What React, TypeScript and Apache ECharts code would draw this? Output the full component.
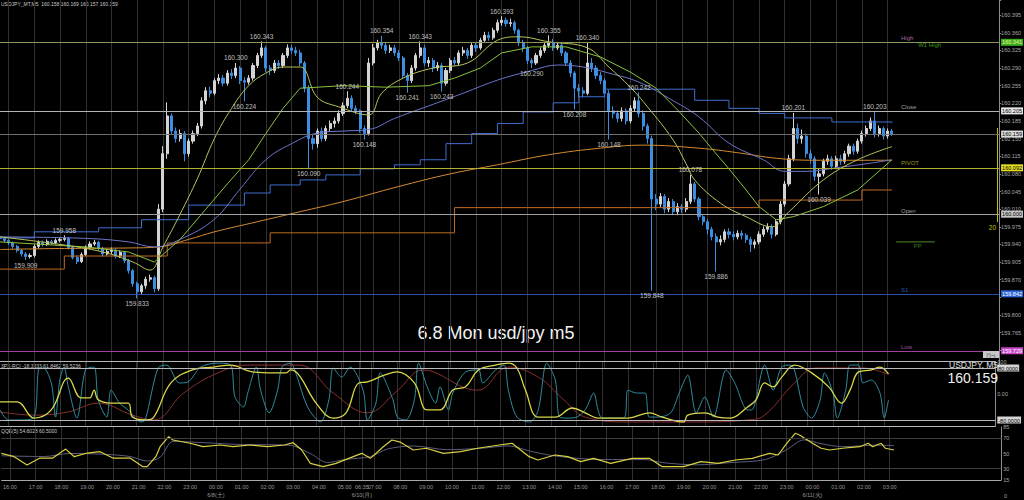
import React, { useEffect, useRef } from 'react';
import * as echarts from 'echarts';

const FONT = '"Liberation Sans", Arial, sans-serif';

// ---------- time axis ----------
const sessionStarts = ['15:40', '06:30'];
const sessionSlots = [84, 150];
const lastBarIndex = 208;
const labelOverrides: Record<number, string> = { 84: '06:35' };
const dateLabels: Record<number, string> = { 50: '6/8(土)', 84: '6/10(月)', 189: '6/11(火)' };

// ---------- price bars (10-min), rows = [close, high, low] ----------
const firstOpen = 159.955;
const fridayBars = [
  [159.952, 159.957, 159.946], [159.948, 159.955, 159.944], [159.943, 159.951, 159.939], [159.936, 159.946, 159.931],
  [159.928, 159.939, 159.924], [159.921, 159.931, 159.916], [159.916, 159.925, 159.909], [159.918, 159.922, 159.912],
  [159.936, 159.940, 159.914], [159.944, 159.948, 159.932], [159.940, 159.948, 159.936], [159.946, 159.950, 159.937],
  [159.943, 159.949, 159.939], [159.948, 159.952, 159.940], [159.950, 159.954, 159.944], [159.952, 159.958, 159.946],
  [159.934, 159.955, 159.930], [159.914, 159.937, 159.910], [159.906, 159.918, 159.901], [159.920, 159.924, 159.903],
  [159.934, 159.938, 159.917], [159.941, 159.946, 159.930], [159.944, 159.949, 159.937], [159.932, 159.947, 159.928],
  [159.921, 159.935, 159.916], [159.926, 159.931, 159.918], [159.929, 159.934, 159.921], [159.917, 159.932, 159.912],
  [159.924, 159.928, 159.913], [159.908, 159.927, 159.903], [159.888, 159.911, 159.882], [159.862, 159.891, 159.856],
  [159.846, 159.866, 159.833], [159.858, 159.862, 159.840], [159.871, 159.876, 159.852], [159.874, 159.880, 159.866],
  [159.852, 159.878, 159.845], [160.010, 160.020, 159.848], [160.120, 160.135, 160.004], [160.195, 160.222, 160.110],
  [160.165, 160.200, 160.158], [160.150, 160.172, 160.142], [160.160, 160.168, 160.144], [160.120, 160.165, 160.105],
  [160.145, 160.150, 160.114], [160.160, 160.166, 160.140], [160.175, 160.181, 160.155], [160.225, 160.232, 160.170],
  [160.245, 160.252, 160.218], [160.240, 160.253, 160.232], [160.265, 160.270, 160.236], [160.270, 160.278, 160.258],
  [160.260, 160.276, 160.254], [160.280, 160.286, 160.255], [160.275, 160.288, 160.268], [160.290, 160.300, 160.270],
  [160.265, 160.294, 160.258], [160.262, 160.272, 160.224], [160.270, 160.276, 160.257], [160.295, 160.300, 160.265],
  [160.315, 160.320, 160.290], [160.330, 160.343, 160.310], [160.290, 160.334, 160.282], [160.285, 160.296, 160.276],
  [160.300, 160.306, 160.280], [160.295, 160.306, 160.288], [160.315, 160.320, 160.290], [160.330, 160.337, 160.310],
  [160.325, 160.336, 160.318], [160.320, 160.332, 160.314], [160.300, 160.326, 160.294], [160.250, 160.304, 160.242],
  [160.150, 160.256, 160.090], [160.140, 160.158, 160.128], [160.165, 160.170, 160.132], [160.150, 160.172, 160.144],
  [160.170, 160.176, 160.145], [160.180, 160.186, 160.164], [160.185, 160.192, 160.172], [160.200, 160.206, 160.180],
  [160.215, 160.222, 160.195], [160.230, 160.244, 160.210], [160.210, 160.236, 160.204], [160.205, 160.216, 160.198],
];
const mondayBars = [
  [160.170, 160.208, 160.162], [160.160, 160.176, 160.148], [160.300, 160.310, 160.156], [160.330, 160.338, 160.295],
  [160.340, 160.346, 160.325], [160.335, 160.354, 160.328], [160.325, 160.340, 160.318], [160.330, 160.336, 160.320],
  [160.320, 160.336, 160.314], [160.310, 160.326, 160.304], [160.275, 160.314, 160.268], [160.265, 160.280, 160.241],
  [160.290, 160.296, 160.260], [160.315, 160.320, 160.285], [160.330, 160.343, 160.310], [160.300, 160.336, 160.294],
  [160.305, 160.312, 160.292], [160.290, 160.310, 160.282], [160.295, 160.302, 160.284], [160.260, 160.300, 160.243],
  [160.285, 160.290, 160.255], [160.305, 160.310, 160.280], [160.300, 160.312, 160.294], [160.320, 160.325, 160.296],
  [160.325, 160.332, 160.314], [160.315, 160.330, 160.308], [160.335, 160.340, 160.310], [160.330, 160.342, 160.322],
  [160.345, 160.350, 160.326], [160.355, 160.362, 160.340], [160.350, 160.362, 160.344], [160.365, 160.370, 160.346],
  [160.380, 160.386, 160.360], [160.385, 160.393, 160.374], [160.378, 160.390, 160.372], [160.380, 160.388, 160.372],
  [160.365, 160.384, 160.358], [160.340, 160.368, 160.334], [160.330, 160.346, 160.322], [160.305, 160.334, 160.298],
  [160.300, 160.310, 160.290], [160.315, 160.320, 160.296], [160.325, 160.331, 160.310], [160.335, 160.340, 160.320],
  [160.340, 160.355, 160.330], [160.330, 160.348, 160.324], [160.335, 160.342, 160.326], [160.320, 160.340, 160.314],
  [160.300, 160.324, 160.294], [160.280, 160.306, 160.272], [160.250, 160.284, 160.208], [160.245, 160.258, 160.232],
  [160.240, 160.252, 160.232], [160.300, 160.340, 160.236], [160.290, 160.310, 160.282], [160.275, 160.296, 160.268],
  [160.265, 160.282, 160.258], [160.240, 160.270, 160.232], [160.205, 160.246, 160.148], [160.200, 160.214, 160.190],
  [160.190, 160.206, 160.182], [160.205, 160.212, 160.184], [160.185, 160.210, 160.178], [160.210, 160.216, 160.180],
  [160.225, 160.232, 160.204], [160.200, 160.242, 160.192], [160.175, 160.206, 160.166], [160.150, 160.180, 160.140],
  [160.030, 160.156, 159.848], [160.020, 160.040, 160.008], [160.035, 160.042, 160.014], [160.010, 160.040, 160.002],
  [160.025, 160.032, 160.004], [160.005, 160.030, 159.998], [160.015, 160.022, 159.998], [160.010, 160.020, 160.002],
  [160.025, 160.032, 160.004], [160.060, 160.078, 160.020], [160.030, 160.064, 160.024], [159.995, 160.034, 159.988],
  [159.985, 160.000, 159.978], [159.970, 159.990, 159.960], [159.955, 159.975, 159.948], [159.945, 159.962, 159.886],
  [159.950, 159.958, 159.938], [159.965, 159.970, 159.944], [159.960, 159.972, 159.952], [159.955, 159.966, 159.948],
  [159.962, 159.968, 159.950], [159.958, 159.968, 159.950], [159.950, 159.962, 159.943], [159.940, 159.955, 159.925],
  [159.945, 159.950, 159.932], [159.960, 159.966, 159.940], [159.970, 159.976, 159.955], [159.975, 159.982, 159.964],
  [159.960, 159.980, 159.952], [159.985, 159.990, 159.956], [160.020, 160.026, 159.980], [160.060, 160.066, 160.015],
  [160.110, 160.118, 160.055], [160.170, 160.201, 160.105], [160.150, 160.180, 160.140], [160.155, 160.168, 160.140],
  [160.120, 160.160, 160.112], [160.110, 160.128, 160.100], [160.075, 160.115, 160.066], [160.080, 160.090, 160.039],
  [160.105, 160.110, 160.075], [160.110, 160.118, 160.098], [160.095, 160.115, 160.088], [160.110, 160.116, 160.090],
  [160.105, 160.118, 160.098], [160.120, 160.126, 160.100], [160.135, 160.140, 160.114], [160.125, 160.140, 160.118],
  [160.145, 160.150, 160.120], [160.160, 160.166, 160.140], [160.170, 160.176, 160.154], [160.185, 160.192, 160.165],
  [160.160, 160.203, 160.152], [160.170, 160.176, 160.154], [160.155, 160.174, 160.148], [160.165, 160.170, 160.150],
  [160.159, 160.169, 160.155],
];

// ---------- zigzag swing labels ----------
const zigzagIndex = [6, 15, 32, 55, 57, 61, 72, 81, 85, 89, 95, 98, 103, 117, 124, 128, 134, 137, 142, 149, 152, 161, 167, 185, 191, 204];
const zigzagPrice = [159.909, 159.958, 159.833, 160.300, 160.224, 160.343, 160.090, 160.244, 160.148, 160.354, 160.241, 160.343, 160.243,
  160.393, 160.290, 160.355, 160.208, 160.340, 160.148, 160.242, 159.848, 160.078, 159.886, 160.201, 160.039, 160.203];
const zigzagSide = ['L', 'H', 'L', 'H', 'L', 'H', 'L', 'H', 'L', 'H', 'L', 'H', 'L', 'H', 'L', 'H', 'L', 'H', 'L', 'H', 'L', 'H', 'L', 'H', 'L', 'H'];

// ---------- moving averages [barIndex, price] ----------
const maFast = [[0, 159.955], [14, 159.940], [24, 159.925], [31, 159.905], [35, 159.889], [38, 159.935], [42, 160.000], [46, 160.070],
  [50, 160.150], [54, 160.210], [58, 160.255], [62, 160.280], [66, 160.292], [70, 160.292], [74, 160.232], [79, 160.213], [86, 160.197],
  [89, 160.240], [94, 160.270], [101, 160.290], [109, 160.300], [116, 160.345], [121, 160.352], [128, 160.342], [137, 160.330],
  [142, 160.292], [147, 160.252], [151, 160.213], [157, 160.147], [160, 160.100], [162, 160.068], [168, 160.022], [174, 159.995],
  [180, 159.975], [184, 160.005], [192, 160.068], [200, 160.108], [208, 160.134]];
const maGreen = [[0, 159.945], [20, 159.935], [30, 159.925], [36, 159.905], [42, 159.950], [48, 160.010], [53, 160.060], [58, 160.108],
  [62, 160.160], [66, 160.210], [70, 160.250], [80, 160.255], [90, 160.252], [100, 160.255], [106, 160.270], [112, 160.290],
  [117, 160.320], [124, 160.332], [132, 160.332], [140, 160.312], [147, 160.282], [153, 160.250], [158, 160.207], [163, 160.161],
  [166, 160.130], [170, 160.090], [174, 160.048], [177, 160.015], [181, 159.989], [185, 159.995], [192, 160.015], [200, 160.048],
  [208, 160.108]];
const maSlate = [[0, 159.955], [20, 159.952], [30, 159.945], [36, 159.935], [42, 159.950], [50, 159.990], [56, 160.050], [62, 160.108],
  [68, 160.140], [74, 160.161], [80, 160.165], [86, 160.168], [92, 160.190], [100, 160.215], [108, 160.240], [116, 160.266],
  [124, 160.285], [130, 160.296], [136, 160.292], [142, 160.280], [149, 160.262], [156, 160.230], [163, 160.193], [170, 160.141],
  [178, 160.108], [183, 160.085], [188, 160.085], [195, 160.092], [202, 160.100], [208, 160.108]];
const maStepBlue = [[0, 159.953], [8, 159.965], [23, 159.973], [33, 159.989], [44, 160.018], [57, 160.042], [63, 160.058], [70, 160.068],
  [76, 160.078], [84, 160.090], [92, 160.098], [98, 160.108], [104, 160.140], [110, 160.160], [116, 160.180], [122, 160.203],
  [129, 160.221], [135, 160.233], [141, 160.248], [162, 160.226], [170, 160.210], [177, 160.200], [183, 160.191], [194, 160.183],
  [208, 160.181]];
const maOrange = [[0, 159.930], [15, 159.932], [30, 159.933], [37, 159.935], [44, 159.950], [50, 159.965], [60, 159.985], [70, 160.005],
  [80, 160.025], [93, 160.055], [105, 160.080], [116, 160.098], [128, 160.118], [140, 160.131], [150, 160.137], [163, 160.131],
  [172, 160.122], [181, 160.111], [190, 160.107], [208, 160.107]];
const maStepOrange = [[0, 159.891], [15, 159.917], [39, 159.943], [63, 159.963], [106, 160.013], [177, 160.028], [201, 160.048], [208, 160.048]];

// ---------- levels ----------
const levelValues = [160.341, 160.205, 160.159, 160.092, 160.0, 159.842, 159.729];
const ppLevel = 159.945;
const ppSpan = [209, 218];
const levelNames = ['High', 'W1 High', 'Close', 'PIVOT', 'Open', 'PP', 'S1', 'Low'];
const levelNameValues = [160.341, 160.341, 160.205, 160.092, 160.0, 159.945, 159.842, 159.729];

// ---------- RCI sub-window ----------
const rciShort = [[0, -49], [2, -80], [5, -80], [8, -71], [9, 74], [10, 83], [12, 34], [13, -71], [14, 43], [15, 83], [16, 22], [18, -74],
  [20, 74], [22, 83], [23, -18], [25, -71], [26, 12], [28, -28], [30, -49], [33, -86], [34, -80], [37, 80], [39, 89], [42, 34], [44, 37],
  [47, 83], [51, 95], [54, 89], [55, -9], [57, -40], [58, 3], [60, 83], [61, 12], [63, -58], [65, 12], [66, 83], [68, 95], [69, 74],
  [72, -40], [75, -86], [77, -18], [78, 80], [80, 52], [82, 83], [85, 12], [86, -80], [88, -28], [89, 65], [92, -18], [93, -71],
  [95, -80], [97, -18], [98, 95], [100, 22], [102, -28], [103, 22], [105, -49], [106, 3], [109, 68], [112, 74], [113, 34], [116, 74],
  [118, 89], [119, 12], [121, -71], [124, -86], [126, -49], [128, 95], [130, 43], [131, -71], [133, -74], [135, -71], [137, -49],
  [139, 3], [140, -49], [141, -74], [146, -74], [147, 12], [149, 3], [151, 3], [152, -71], [154, -71], [157, -58], [159, 3], [161, 58],
  [163, -58], [165, -9], [167, -71], [170, 74], [172, 34], [175, -49], [176, -49], [179, 89], [181, 12], [183, 83], [185, 89], [186, 74],
  [188, -40], [190, -74], [192, -18], [193, 65], [195, 3], [196, -74], [198, 12], [199, 89], [201, 89], [202, 34], [204, 43], [206, 3],
  [207, -74], [208, -18]];
const rciMid = [[0, -24], [4, -24], [8, -74], [12, -49], [16, 49], [19, -12], [21, -12], [22, 12], [23, -18], [26, -28], [30, -28], [31, -71],
  [34, -80], [36, -71], [40, 34], [45, 74], [50, 83], [54, 89], [59, 68], [64, 65], [67, 65], [68, 74], [70, 58], [74, -28], [78, -74],
  [81, -58], [84, 34], [86, 37], [90, 58], [93, 68], [97, 34], [100, -49], [103, -49], [106, 12], [109, 22], [112, 74], [116, 89],
  [119, 95], [121, 80], [123, 12], [126, -71], [130, -71], [134, -43], [137, -58], [140, -74], [147, -74], [152, -58], [155, -71],
  [160, -86], [161, -65], [165, -58], [168, -71], [171, -74], [175, -40], [177, -18], [179, 34], [181, 22], [183, 52], [186, 89],
  [190, 65], [194, 22], [197, -28], [199, 12], [201, 68], [204, 74], [206, 83], [208, 62]];
const rciLong = [[0, -55], [8, -65], [16, -55], [23, -28], [31, -65], [36, -80], [43, 3], [51, 65], [58, 89], [70, 89], [78, 3], [86, -58],
  [93, 10], [99, 74], [109, 18], [112, 12], [119, 83], [126, 52], [132, -18], [137, -71], [147, -86], [163, -86], [175, -80], [179, -65],
  [186, 34], [191, 80], [202, 80], [208, 60]];
const rciBands = [100, 80, -80, -100];

// ---------- QQE sub-window ----------
const qqeMain = [[0, 50.2], [3, 45.8], [6, 34.8], [9, 44], [12, 44], [15, 55.8], [17, 45.8], [20, 50.6], [23, 52.4], [26, 44], [30, 44],
  [33, 32.6], [34, 32.6], [36, 45.8], [37, 59], [39, 72.2], [40, 67.8], [44, 63.5], [47, 59], [51, 61.2], [54, 59], [58, 61.2], [62, 59],
  [66, 61.2], [68, 64.3], [70, 54.6], [72, 37], [75, 32.6], [78, 37], [82, 45.8], [84, 50.2], [86, 43.6], [89, 59], [91, 67.8], [93, 65],
  [96, 54.6], [99, 56.9], [103, 50.2], [107, 52.4], [111, 56.9], [116, 61.2], [119, 63.5], [123, 45.8], [125, 41.4], [129, 48],
  [132, 45.8], [135, 39.2], [138, 43.6], [142, 37], [147, 43.6], [151, 43.6], [154, 32.6], [159, 32.6], [163, 39.2], [167, 37],
  [171, 41.4], [175, 43.6], [179, 50.2], [181, 48], [183, 63.5], [185, 76.7], [186, 74.4], [189, 63.5], [191, 56.9], [193, 54.6],
  [196, 56.9], [200, 59], [202, 63.5], [203, 59], [205, 63.5], [206, 56.9], [208, 54.6]];
const qqeSignal = [[0, 47], [10, 46], [16, 50], [24, 49], [30, 46], [34, 40], [37, 45], [40, 66], [45, 65], [55, 62], [67, 61], [72, 50],
  [76, 38], [80, 42], [86, 46], [90, 56], [96, 60], [104, 55], [112, 57], [118, 60], [124, 52], [130, 46], [140, 42], [150, 42],
  [154, 38], [162, 35], [170, 38], [178, 42], [183, 55], [187, 68], [191, 63], [196, 59], [204, 61], [208, 60.5]];
const qqeLevels = [70, 30, 15];
const qqeTickLabels = [15, 30, 50, 70, 85];

// ---------- text ----------
const headerText = 'USDJPY_MT,M5  160.158 160.169 160.157 160.159';
const rciHeader = '3PX-RCI -18.3333 61.8462 59.5236';
const qqeHeader = 'QQE(5) 54.6028 60.5000';
const titleText = '6.8 Mon usd/jpy m5';
const symbolText = 'USDJPY, M5';
const lastPriceText = '160.159';

// ---------- styling ----------
const UP = '#d4d4d4';
const DOWN = '#3d8de0';
const levelLineColors = ['#8e955a', '#b4b4b4', '#6e6e6e', '#b2b030', '#a0a0a0', '#2d4fb0', '#a040a0'];
const levelBoxColors = ['#3cb01c', '#e6e6e6', '#dcdcdc', '#e6de22', '#c6c6c6', '#2a66d8', '#c848c8'];
const levelBoxText = ['#e8f8a0', '#000', '#000', '#000', '#000', '#fff', '#fff'];
const levelNameColors = ['#d884d0', '#48c018', '#c8c8c8', '#c8c020', '#c8c8c8', '#48a018', '#3a70e0', '#c070c0'];
const levelNameSlot = [210, 214, 210, 210, 210, 213, 210, 210];
const levelNameDy = [-4, 3, -4, -5, -3, 4, -4, -4];

const pad = (n: number) => (n < 10 ? '0' : '') + n;
const categories: string[] = [];
sessionStarts.forEach((s, k) => {
  const [h, m] = s.split(':').map(Number);
  for (let i = 0; i < sessionSlots[k]; i++) {
    const t = (h * 60 + m + i * 10) % 1440;
    categories.push(pad(Math.floor(t / 60)) + ':' + pad(t % 60));
  }
});
const isGridIndex = (i: number) =>
  i <= lastBarIndex && (categories[i].endsWith(':00') || labelOverrides[i] !== undefined);

export default function App() {
  const ref = useRef<HTMLDivElement>(null);
  useEffect(() => {
    if (!ref.current) return;
    const chart = echarts.init(ref.current, undefined, { renderer: 'svg' });
    const bars = fridayBars.concat(mondayBars);
    const candleData = bars.map((b, i) => [i === 0 ? firstOpen : bars[i - 1][0], b[0], b[2], b[1]]);
    const zigzagData = zigzagIndex.map((x, k) => ({
      value: [x, zigzagPrice[k]],
      label: { position: zigzagSide[k] === 'H' ? 'top' : 'bottom', distance: 1 },
    }));
    const levelNameData = levelNames.map((n, k) => ({
      value: [levelNameSlot[k], levelNameValues[k]],
      label: { formatter: n, color: levelNameColors[k], offset: [0, levelNameDy[k]] },
    }));
    const gridLeft = -0.6;
    const gridRight = 22.7;
    const xAxisBase = (k: number) => ({
      type: 'category',
      gridIndex: k,
      data: categories,
      boundaryGap: false,
      axisLine: { show: false },
      axisTick: { show: false },
      axisLabel:
        k === 2
          ? {
              show: true,
              interval: (i: number) => isGridIndex(i),
              formatter: (v: string, i: number) => {
                const t = labelOverrides[i] ?? v;
                return dateLabels[i] ? t + '\n{d|' + dateLabels[i] + '}' : t;
              },
              fontSize: 5.5,
              color: '#9a9a9a',
              fontFamily: FONT,
              margin: 4,
              rich: { d: { fontSize: 5.5, color: '#9a9a9a', fontFamily: FONT, padding: [2, 0, 0, 0] } },
            }
          : { show: false },
      splitLine: { show: true, interval: (i: number) => isGridIndex(i), lineStyle: { color: '#303030', width: 1 } },
    });
    const axisLabelBase = { fontSize: 5.5, color: '#a8a8a8', fontFamily: FONT, margin: 2 };
    const line = (data: number[][], color: string, xi: number, extra: any = {}) => ({
      type: 'line',
      xAxisIndex: xi,
      yAxisIndex: xi,
      data,
      symbol: 'none',
      silent: true,
      lineStyle: { color, width: 1 },
      z: 3,
      ...extra,
    });
    const option: any = {
      animation: false,
      backgroundColor: '#000',
      grid: [
        { left: gridLeft, right: gridRight, top: 0, height: 367.9 },
        { left: gridLeft, right: gridRight, top: 361.5, height: 65 },
        { left: gridLeft, right: gridRight, top: 427, height: 53 },
      ],
      xAxis: [xAxisBase(0), xAxisBase(1), xAxisBase(2)],
      yAxis: [
        {
          type: 'value',
          gridIndex: 0,
          position: 'right',
          min: 159.695,
          max: 160.425,
          interval: 0.035,
          axisLine: { show: true, lineStyle: { color: '#8c8c8c' } },
          axisTick: { show: true, length: 2, lineStyle: { color: '#8c8c8c' } },
          splitLine: { show: false },
          axisLabel: {
            ...axisLabelBase,
            formatter: (v: number) => {
              if (v < 159.74 || v > 160.41) return '';
              if (levelValues.some((l) => Math.abs(l - v) < 0.008)) return '';
              return v.toFixed(3);
            },
          },
        },
        {
          type: 'value',
          gridIndex: 1,
          position: 'right',
          min: -100,
          max: 100,
          interval: 20,
          axisLine: { show: true, lineStyle: { color: '#8c8c8c' } },
          axisTick: { show: false },
          splitLine: { show: false },
          axisLabel: {
            ...axisLabelBase,
            formatter: (v: number) => {
              if (Math.round(v) === 100) return '100';
              if (Math.round(v) === 80) return '{b|80.0000}';
              if (Math.round(v) === -80) return '{b|-80.0000}';
              if (Math.round(v) === 0) return '0.00';
              return '';
            },
            rich: { b: { backgroundColor: '#d4d4d4', color: '#000', fontSize: 5.5, fontFamily: FONT, padding: [1, 1, 0, 1] } },
          },
        },
        {
          type: 'value',
          gridIndex: 2,
          position: 'right',
          min: 15,
          max: 85,
          interval: 5,
          axisLine: { show: true, lineStyle: { color: '#8c8c8c' } },
          axisTick: { show: false },
          splitLine: { show: false },
          axisLabel: {
            ...axisLabelBase,
            formatter: (v: number) => (qqeTickLabels.includes(Math.round(v)) ? String(Math.round(v)) : ''),
          },
        },
      ],
      series: [
        {
          type: 'candlestick',
          xAxisIndex: 0,
          yAxisIndex: 0,
          data: candleData,
          barWidth: 2.6,
          silent: true,
          z: 2,
          itemStyle: { color: UP, color0: DOWN, borderColor: UP, borderColor0: DOWN, borderWidth: 1 },
          markLine: {
            silent: true,
            symbol: ['none', 'none'],
            precision: 3,
            animation: false,
            label: {
              show: true,
              position: 'end',
              distance: 2,
              fontSize: 5.5,
              fontFamily: FONT,
              padding: [1, 1, 0, 1],
              formatter: (p: any) => Number(p.value).toFixed(3),
            },
            data: levelValues.map((v, k) => ({
              yAxis: v,
              lineStyle: { color: levelLineColors[k], width: 1, type: 'solid' },
              label: { backgroundColor: levelBoxColors[k], color: levelBoxText[k] },
            })),
          },
        },
        line(maStepOrange, '#c06a22', 0, { step: 'end' }),
        line(maOrange, '#d48c30', 0, { smooth: 0.4 }),
        line(maStepBlue, '#3f6ed0', 0, { step: 'end' }),
        line(maSlate, '#6b76cc', 0, { smooth: 0.4 }),
        line(maGreen, '#8cc23c', 0, {}),
        line(maFast, '#b8c458', 0, { smooth: 0.4 }),
        line([[ppSpan[0], ppLevel], [ppSpan[1], ppLevel]], '#4e8a26', 0, {}),
        {
          type: 'scatter',
          xAxisIndex: 0,
          yAxisIndex: 0,
          data: zigzagData,
          symbolSize: 1,
          silent: true,
          itemStyle: { color: 'rgba(0,0,0,0)' },
          z: 6,
          label: {
            show: true,
            color: '#ececec',
            fontSize: 6.5,
            fontFamily: FONT,
            formatter: (p: any) => Number(p.value[1]).toFixed(3),
          },
        },
        {
          type: 'scatter',
          xAxisIndex: 0,
          yAxisIndex: 0,
          data: levelNameData,
          symbolSize: 1,
          silent: true,
          itemStyle: { color: 'rgba(0,0,0,0)' },
          z: 6,
          label: { show: true, position: 'right', distance: 0, fontSize: 6, fontFamily: FONT },
        },
        line(rciLong, '#8a2f2f', 1, { smooth: 0.4 }),
        line(rciShort, '#2e8e9e', 1, { smooth: 0.3 }),
        line(rciMid, '#d8d848', 1, {
          smooth: 0.4,
          lineStyle: { color: '#d8d848', width: 1.3 },
          markLine: {
            silent: true,
            symbol: ['none', 'none'],
            label: { show: false },
            lineStyle: { color: '#b8b8b8', width: 1, type: 'solid' },
            data: rciBands.map((v) => ({ yAxis: v })),
          },
        }),
        line(qqeSignal, '#5e5e7c', 2, { smooth: 0.3 }),
        line(qqeMain, '#d8d040', 2, {
          lineStyle: { color: '#d8d040', width: 1.2 },
          markLine: {
            silent: true,
            symbol: ['none', 'none'],
            label: { show: false },
            data: qqeLevels.map((v) => ({
              yAxis: v,
              lineStyle: { color: v === 15 ? '#a8a8a8' : '#3e3e3e', width: 1, type: 'solid' },
            })),
          },
        }),
      ],
      graphic: [
        { type: 'text', left: 1, top: 1, silent: true, style: { text: headerText, fill: '#c8c8c8', fontSize: 5, fontFamily: FONT } },
        { type: 'text', left: 1, top: 363, silent: true, style: { text: rciHeader, fill: '#c8c8c8', fontSize: 5, fontFamily: FONT } },
        { type: 'text', left: 1, top: 428, silent: true, style: { text: qqeHeader, fill: '#c8c8c8', fontSize: 5, fontFamily: FONT } },
        {
          type: 'text', x: 496, y: 333, silent: true,
          style: { text: titleText, fill: '#f2f2f2', fontSize: 18, fontFamily: FONT, align: 'center', verticalAlign: 'middle' },
        },
        {
          type: 'text', x: 998, y: 365, silent: true, z: 20,
          style: { text: symbolText, fill: '#e0e0e0', fontSize: 8.5, fontFamily: FONT, align: 'right', verticalAlign: 'middle' },
        },
        {
          type: 'text', x: 998, y: 378, silent: true, z: 20,
          style: { text: lastPriceText, fill: '#f0f0f0', fontSize: 14, fontFamily: FONT, align: 'right', verticalAlign: 'middle' },
        },
        { type: 'line', silent: true, shape: { x1: 997.5, y1: 128, x2: 997.5, y2: 222 }, style: { stroke: '#c8c000', lineWidth: 1 } },
        {
          type: 'text', x: 996, y: 227, silent: true,
          style: { text: '20', fill: '#c8c000', fontSize: 6.5, fontFamily: FONT, align: 'right', verticalAlign: 'middle' },
        },
        { type: 'rect', silent: true, shape: { x: 983, y: 351, width: 16, height: 7 }, style: { fill: '#c8c8c8' }, z: 20 },
        {
          type: 'text', x: 991, y: 354.5, silent: true, z: 21,
          style: { text: 'ｱﾗｰﾄ', fill: '#202020', fontSize: 5, fontFamily: '"Noto Sans CJK JP", sans-serif', align: 'center', verticalAlign: 'middle' },
        },
        {
          type: 'text', x: 1004, y: 496, silent: true,
          style: { text: '0', fill: '#a8a8a8', fontSize: 5.5, fontFamily: FONT, verticalAlign: 'middle' },
        },
      ],
    };
    chart.setOption(option);
    return () => chart.dispose();
  }, []);
  return (
    <div
      ref={ref}
      style={{ position: 'fixed', left: 0, top: 0, width: 1024, height: 500, background: '#000' }}
    />
  );
}
